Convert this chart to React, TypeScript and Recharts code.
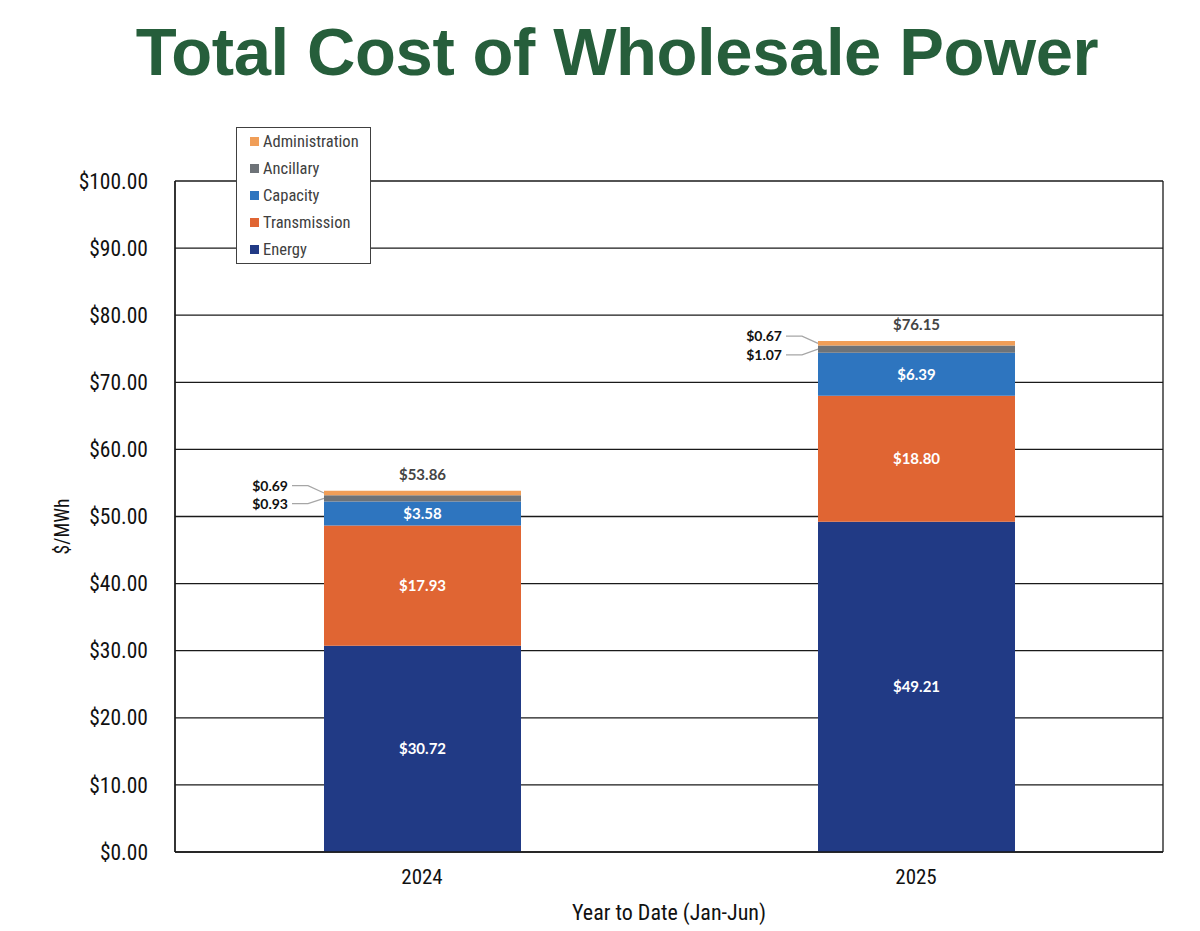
import React from 'react';
import {
  BarChart,
  Bar,
  XAxis,
  YAxis,
  CartesianGrid,
  Legend,
  LabelList,
} from 'recharts';

const YEARS = ['2024', '2025'];
const ENERGY = [30.72, 49.21];
const TRANSMISSION = [17.93, 18.8];
const CAPACITY = [3.58, 6.39];
const ANCILLARY = [0.93, 1.07];
const ADMINISTRATION = [0.69, 0.67];
const TOTALS = [53.86, 76.15];
const Y_TICKS = [0, 10, 20, 30, 40, 50, 60, 70, 80, 90, 100];

const SERIES = [
  { key: 'energy', name: 'Energy', color: '#213a85' },
  { key: 'transmission', name: 'Transmission', color: '#e06533' },
  { key: 'capacity', name: 'Capacity', color: '#2e75bf' },
  { key: 'ancillary', name: 'Ancillary', color: '#6e7378' },
  { key: 'administration', name: 'Administration', color: '#f09e58' },
];

const data = YEARS.map((year, i) => ({
  year,
  energy: ENERGY[i],
  transmission: TRANSMISSION[i],
  capacity: CAPACITY[i],
  ancillary: ANCILLARY[i],
  administration: ADMINISTRATION[i],
  total: TOTALS[i],
}));

const NARROW = '"Liberation Sans Narrow", "Arial Narrow", "Roboto Condensed", sans-serif';
const LABEL_FONT = 'Lato, "Open Sans", sans-serif';

const money = (v: any) => {
  const n = Array.isArray(v) ? v[1] - v[0] : Number(v);
  return `$${n.toFixed(2)}`;
};

// small segments get their label outside on the left with a leader line
const leaderLabel = (above: boolean) => (props: any) => {
  const { x, y, height, value } = props;
  const bx = Number(x);
  const by = Number(y);
  const bh = Number(height);
  const cy = by + bh / 2;
  const ty = above ? by - 5 : by + bh + 2;
  return (
    <g>
      <polyline
        points={`${bx - 32},${ty} ${bx - 16},${ty} ${bx},${cy}`}
        fill="none"
        stroke="#a6a6a6"
        strokeWidth={1.2}
      />
      <text
        x={bx - 36}
        y={ty + 5}
        textAnchor="end"
        fontFamily={LABEL_FONT}
        fontWeight={700}
        fontSize={14}
        fill="#111"
      >
        {money(value)}
      </text>
    </g>
  );
};

// legend lists the series top-down, reverse of the stack
const LegendBox = () => {
  const items = [...SERIES].reverse();
  return (
    <div
      style={{
        border: '1px solid #404040',
        background: '#fff',
        width: 133,
        fontFamily: NARROW,
        fontSize: 16.5,
        color: '#404040',
      }}
    >
      {items.map((it) => (
        <div key={it.key} style={{ height: 27, display: 'flex', alignItems: 'center' }}>
          <span
            style={{
              display: 'inline-block',
              width: 9,
              height: 9,
              background: it.color,
              marginLeft: 13,
              marginRight: 4,
            }}
          />
          {it.name}
        </div>
      ))}
    </div>
  );
};

const App: React.FC = () => {
  return (
    <div style={{ position: 'absolute', left: 0, top: 0, width: 1200, height: 931, background: '#fff' }}>
      <div
        style={{
          position: 'absolute',
          top: 13,
          left: 0,
          width: 1200,
          textAlign: 'center',
          fontFamily: '"Liberation Sans", Arial, sans-serif',
          fontWeight: 700,
          fontSize: 67,
          letterSpacing: -0.4,
          color: '#265e3b',
          paddingLeft: 34,
          boxSizing: 'border-box',
        }}
      >
        Total Cost of Wholesale Power
      </div>
      <BarChart
        width={1200}
        height={931}
        data={data}
        margin={{ top: 181, right: 37, left: 0, bottom: 0 }}
        barSize={197}
      >
        <CartesianGrid
          stroke="#1a1a1a"
          strokeWidth={1.3}
          verticalCoordinatesGenerator={(p: any) => [p.offset.left, p.offset.left + p.offset.width]}
        />
        <XAxis
          dataKey="year"
          height={79}
          tickLine={false}
          tickSize={0}
          tickMargin={17}
          axisLine={{ stroke: '#1a1a1a', strokeWidth: 1.3 }}
          tick={{ fill: '#111', fontSize: 21, fontFamily: NARROW }}
          label={{
            content: (p: any) => {
              const vb = p.viewBox;
              return (
                <text
                  x={vb.x + vb.width / 2}
                  y={vb.y + 68}
                  textAnchor="middle"
                  fontFamily={NARROW}
                  fontSize={22}
                  fill="#111"
                >
                  Year to Date (Jan-Jun)
                </text>
              );
            },
          }}
        />
        <YAxis
          width={175}
          domain={[0, 100]}
          ticks={Y_TICKS}
          interval={0}
          tickLine={false}
          tickSize={0}
          tickMargin={27}
          axisLine={{ stroke: '#1a1a1a', strokeWidth: 1.3 }}
          tickFormatter={(v: number) => `$${v.toFixed(2)}`}
          tick={{ fill: '#111', fontSize: 21.5, fontFamily: NARROW }}
          label={{
            content: (p: any) => {
              const vb = p.viewBox;
              const cx = vb.x + 62;
              const cy = vb.y + vb.height / 2 + 10;
              return (
                <text
                  x={cx}
                  y={cy}
                  transform={`rotate(-90 ${cx} ${cy})`}
                  textAnchor="middle"
                  dominantBaseline="central"
                  fontFamily={NARROW}
                  fontSize={19.5}
                  fill="#111"
                >
                  $/MWh
                </text>
              );
            },
          }}
        />
        <Legend
          layout="vertical"
          align="center"
          verticalAlign="middle"
          content={LegendBox}
          wrapperStyle={{ left: 236, top: 127, width: 135, height: 137, bottom: 'auto', right: 'auto' }}
        />
        {SERIES.map((s) => (
          <Bar
            key={s.key}
            dataKey={s.key}
            name={s.name}
            stackId="cost"
            fill={s.color}
            isAnimationActive={false}
          >
            {(s.key === 'energy' || s.key === 'transmission' || s.key === 'capacity') && (
              <LabelList
                dataKey={s.key}
                position="center"
                formatter={money}
                fill="#fff"
                fontFamily={LABEL_FONT}
                fontWeight={700}
                fontSize={15}
              />
            )}
            {s.key === 'ancillary' && (
              <LabelList dataKey="ancillary" content={leaderLabel(false)} />
            )}
            {s.key === 'administration' && (
              <LabelList dataKey="administration" content={leaderLabel(true)} />
            )}
            {s.key === 'administration' && (
              <LabelList
                dataKey="total"
                position="top"
                offset={11}
                formatter={money}
                fill="#444"
                fontFamily={LABEL_FONT}
                fontWeight={700}
                fontSize={15}
              />
            )}
          </Bar>
        ))}
      </BarChart>
    </div>
  );
};

export default App;
